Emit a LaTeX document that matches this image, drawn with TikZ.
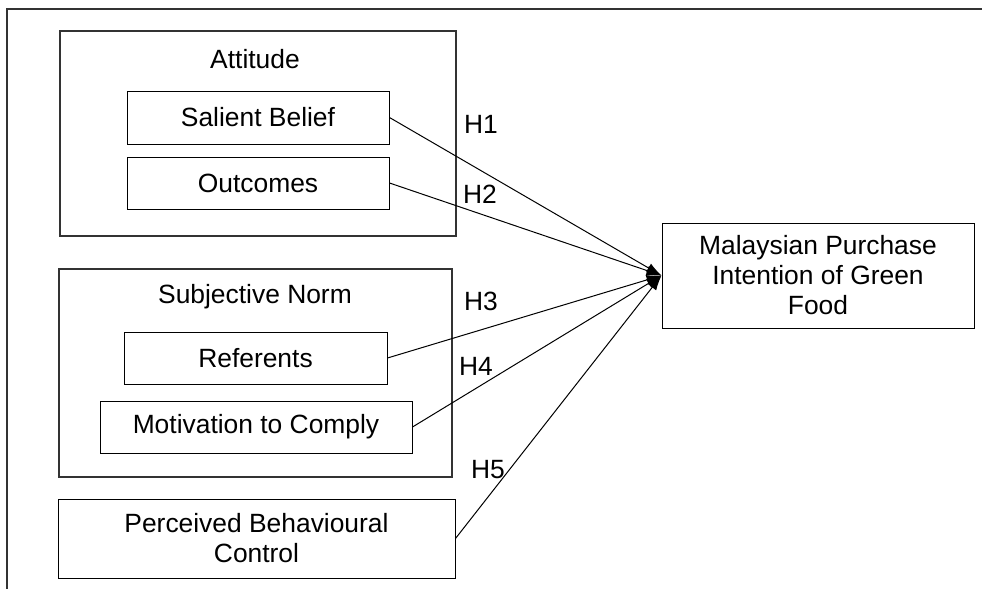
\documentclass[tikz,border=0pt]{standalone}
\usepackage{fontspec}
\setmainfont{Liberation Sans}
\usetikzlibrary{arrows.meta}
\begin{document}
\begin{tikzpicture}[>={Latex[length=7.5pt,width=5pt]},x=0.5pt,y=-0.5pt,
  box/.style={draw,line width=0.5pt,inner sep=0pt,align=center,
    font=\fontsize{13.2}{15}\selectfont},
  hlabel/.style={inner sep=0pt,font=\fontsize{13.2}{15}\selectfont},
  pfeil/.style={->,line width=0.5pt}]
\useasboundingbox (0,0) rectangle (982,589);
% Rahmen (oben und links)
\draw[line width=0.8pt,black!80] (982,9) -- (7,9) -- (7,589);
% Gruppen: Attitude und Subjective Norm
\draw[line width=0.6pt,black!80] (60,31) rectangle (456,236);
\draw[line width=0.6pt,black!80] (59,269) rectangle (452,477);
\node[hlabel] (att)  at (255,59)  {Attitude};
\node[hlabel] (sn)   at (255,297) {Subjective Norm};
% Einflussgroessen
\node[box,minimum width=131pt,minimum height=26.5pt] (belief)  at (258,117.5) {Salient Belief};
\node[box,minimum width=131pt,minimum height=26pt]   (outcome) at (258,183)   {Outcomes};
\node[box,minimum width=131.5pt,minimum height=26pt] (ref)     at (255.5,358) {Referents};
\node[box,minimum width=156pt,minimum height=26pt]   (motiv)   at (256,427)   {Motivation to Comply};
\node[box,minimum width=198.5pt,minimum height=39.5pt] (pbc)   at (256.5,538.5) {Perceived Behavioural\\Control};
% Zielgroesse
\node[box,minimum width=156pt,minimum height=52.5pt] (intent) at (818,275.5)
  {Malaysian Purchase\\Intention of Green\\Food};
% Hypothesen
\foreach \q in {belief,outcome,ref,motiv,pbc}
  \draw[pfeil] (\q.east) -- (intent.west);
\node[hlabel] (h1) at (481,124) {H1};
\node[hlabel] (h2) at (480,194) {H2};
\node[hlabel] (h3) at (481,301) {H3};
\node[hlabel] (h4) at (476,366) {H4};
\node[hlabel] (h5) at (488,470) {H5};
\end{tikzpicture}
\end{document}
